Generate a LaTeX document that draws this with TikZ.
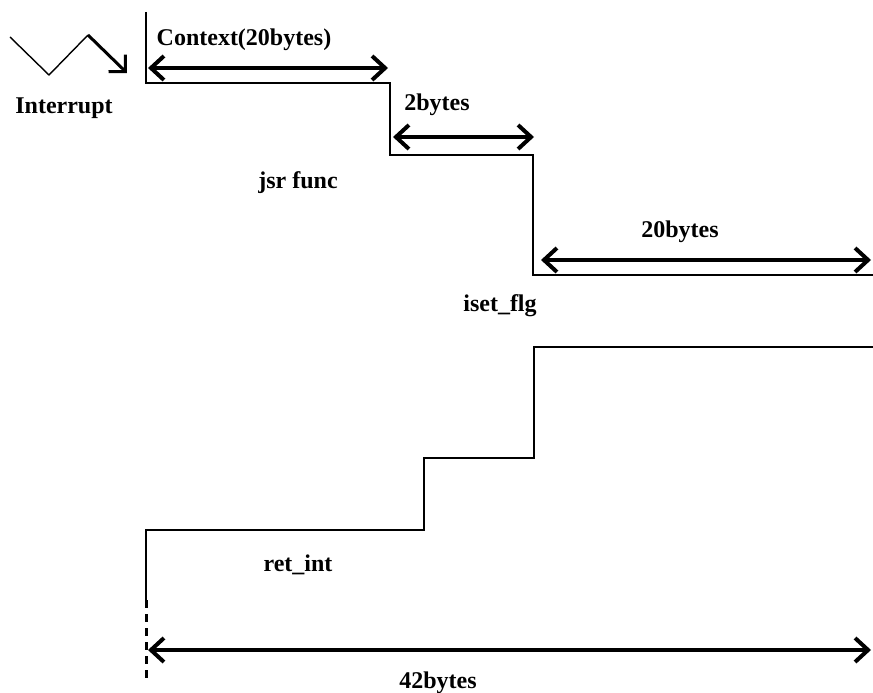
\documentclass[tikz,border=0pt]{standalone}
\usepackage{fontspec}
\setmainfont{Liberation Serif}
\usetikzlibrary{arrows.meta}

\begin{document}
\begin{tikzpicture}[
    x=1pt, y=-1pt,
    stepline/.style={line width=1.6pt},
    span/.style={
        line width=4pt,
        {Straight Barb[length=13pt, width=24pt]}-{Straight Barb[length=13pt, width=24pt]}
    },
    lbl/.style={font=\bfseries\fontsize{24}{28}\selectfont, inner sep=0pt},
]
\useasboundingbox (0,0) rectangle (873,693);

% ── Interrupt entry ──
\coordinate (z0) at (10,37);
\coordinate (z1) at (49,75);
\coordinate (z2) at (88,35);
\coordinate (z3) at (127,73);
\draw[line width=1.4pt] (z0) -- (z1) -- (z2);
\draw[line width=3pt, -{Straight Barb[length=12pt, width=24pt]}] (z2) -- (z3);
\node[lbl] (intr) at (64,108) {Interrupt};

% ── Upper staircase ──
\coordinate (a0) at (146,12);
\coordinate (a1) at (146,83);
\coordinate (a2) at (390,83);
\coordinate (a3) at (390,155);
\coordinate (a4) at (533,155);
\coordinate (a5) at (533,275);
\coordinate (a6) at (873,275);
\draw[stepline] (a0) -- (a1) -- (a2) -- (a3) -- (a4) -- (a5) -- (a6);

% ── Lower staircase ──
\coordinate (b0) at (873,347);
\coordinate (b1) at (534,347);
\coordinate (b2) at (534,458);
\coordinate (b3) at (424,458);
\coordinate (b4) at (424,530);
\coordinate (b5) at (146,530);
\coordinate (b6) at (146,600);
\coordinate (b7) at (146,680);
\draw[stepline] (b0) -- (b1) -- (b2) -- (b3) -- (b4) -- (b5) -- (b6);
\draw[line width=3pt, dash pattern=on 8pt off 6pt] (b6) -- (b7);

% ── Spans ──
\coordinate (s1l) at (148,68);  \coordinate (s1r) at (388,68);
\coordinate (s2l) at (393,137); \coordinate (s2r) at (534,137);
\coordinate (s3l) at (541,260); \coordinate (s3r) at (871,260);
\coordinate (s4l) at (148,650); \coordinate (s4r) at (871,650);
\draw[span] (s1l) -- (s1r);
\draw[span] (s2l) -- (s2r);
\draw[span] (s3l) -- (s3r);
\draw[span] (s4l) -- (s4r);

% ── Labels ──
\node[lbl] (ctx) at (244,40) {Context(20bytes)};
\node[lbl] (two) at (437,105) {2bytes};
\node[lbl] (jsr) at (298,183) {jsr func};
\node[lbl] (twenty) at (680,232) {20bytes};
\node[lbl] (iset) at (500,306) {iset\_flg};
\node[lbl] (ret) at (298,565) {ret\_int};
\node[lbl] (total) at (438,683) {42bytes};

\end{tikzpicture}
\end{document}
